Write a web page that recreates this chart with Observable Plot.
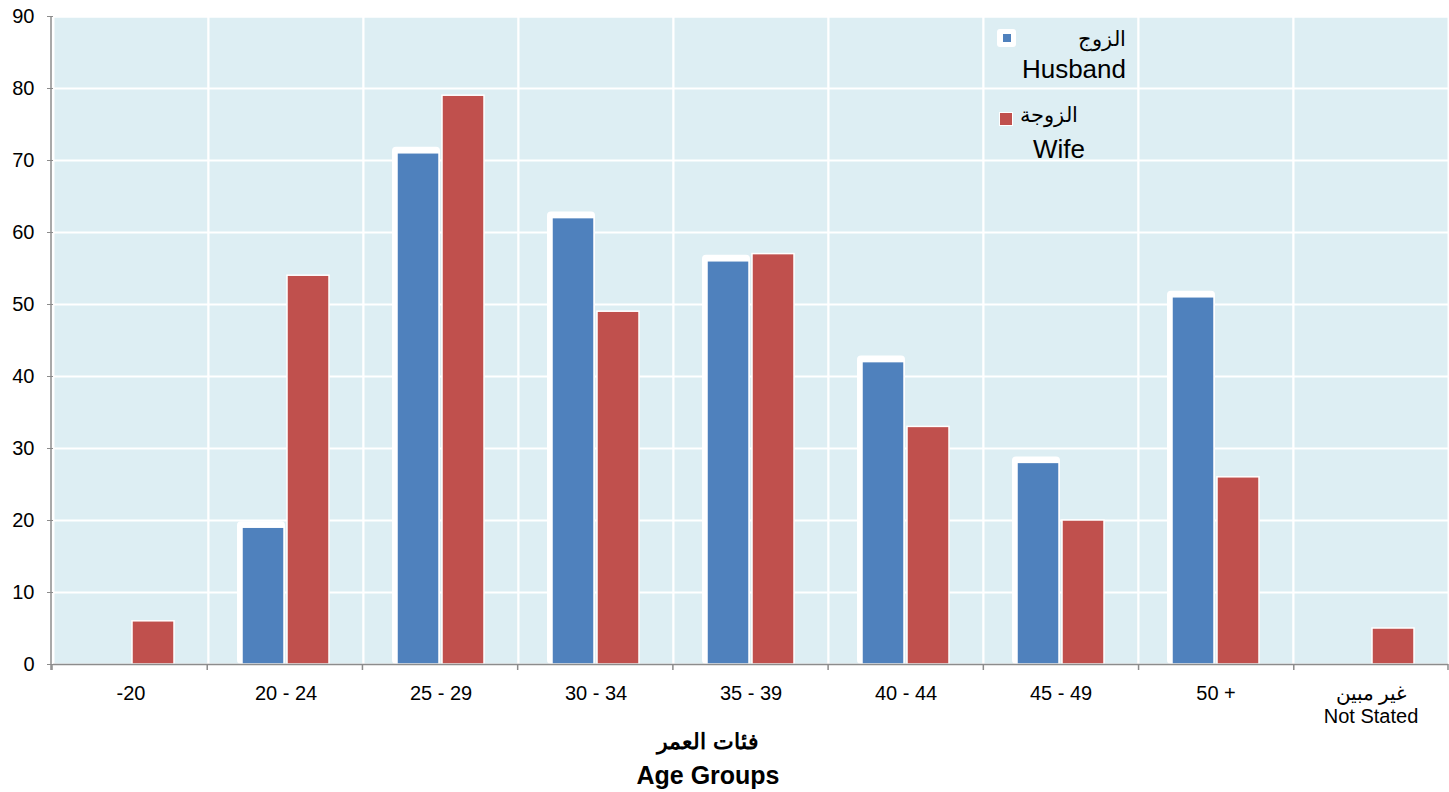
<!DOCTYPE html>
<html><head><meta charset="utf-8">
<script src="https://cdn.jsdelivr.net/npm/d3@7"></script>
<script src="https://cdn.jsdelivr.net/npm/@observablehq/plot@0.6"></script>
<style>
body{margin:0;background:#fff;font-family:"Liberation Sans",Arial,sans-serif;}
#wrap{position:relative;width:1449px;height:792px;overflow:hidden}
.abs{position:absolute;white-space:nowrap;color:#000;line-height:1}
</style></head><body><div id="wrap"></div>
<script>
const groups = ["-20", "20 - 24", "25 - 29", "30 - 34", "35 - 39", "40 - 44", "45 - 49", "50 +", "غير مبين\nNot Stated"];
const husband = [0, 19, 71, 62, 56, 42, 28, 51, 0];
const wife = [6, 54, 79, 49, 57, 33, 20, 26, 5];
const seriesNames = ["Husband", "Wife"];
const seriesColors = ["#4F81BD", "#C0504D"];
const yTicks = [0, 10, 20, 30, 40, 50, 60, 70, 80, 90];

const rows = groups.flatMap((g, i) => [
  {group: g, series: "Husband", value: husband[i]},
  {group: g, series: "Wife", value: wife[i]}
]).filter(d => d.value > 0);

const chart = Plot.plot({
  width: 1449, height: 728,
  marginTop: 16, marginRight: 0, marginBottom: 64, marginLeft: 52,
  style: {fontFamily: '"Liberation Sans", Arial, sans-serif', fontSize: "20px", color: "#000", background: "transparent", overflow: "visible"},
  fx: {domain: groups, paddingInner: 0, paddingOuter: 0, label: null},
  x: {domain: seriesNames, paddingInner: 0.07, paddingOuter: 0.73, axis: null},
  y: {domain: [0, 90], label: null},
  color: {domain: seriesNames, range: seriesColors},
  marks: [
    Plot.frame({fill: "#DDEEF3", stroke: "white", strokeWidth: 2}),
    Plot.ruleY(yTicks.filter(d => d > 0), {stroke: "white", strokeWidth: 2}),
    Plot.barY(rows.filter(d => d.series === "Husband"), {fx: "group", x: "series", y: "value", fill: "white", insetLeft: -5, insetRight: -1, insetTop: -6, rx: 4}),
    Plot.barY(rows, {fx: "group", x: "series", y: "value", fill: "series", stroke: "white", strokeWidth: 1.5}),
    Plot.ruleY([0], {stroke: "#8c8c8c", strokeWidth: 1.5}),
    Plot.axisY(yTicks, {anchor: "left", tickSize: 6, tickPadding: 13, stroke: "#8c8c8c", fill: "#000", label: null}),
    Plot.axisFx({anchor: "bottom", tickSize: 0, tickPadding: 19, label: null, lineHeight: 1.15, fill: "#000"})
  ]
});

const wrap = document.getElementById("wrap");
wrap.appendChild(chart);

// axis line and category boundary ticks derived from the plot's scales
const fxS = chart.scale("fx"), yS = chart.scale("y");
const n = fxS.domain.length;
const step = (fxS.range[1] - fxS.range[0]) / n;
const y0 = yS.range[0], yTop = yS.range[1];
const svg = d3.select(chart.tagName.toLowerCase() === "svg" ? chart : chart.querySelector("svg"));
const g = svg.append("g").attr("stroke", "#8c8c8c").attr("stroke-width", 1.5);
g.selectAll("line.b").data(d3.range(n + 1)).join("line")
  .attr("x1", i => Math.min(fxS.range[0] + i * step, fxS.range[1] - 1))
  .attr("x2", i => Math.min(fxS.range[0] + i * step, fxS.range[1] - 1))
  .attr("y1", y0).attr("y2", y0 + 6);
g.append("line").attr("x1", fxS.range[0] - 1).attr("x2", fxS.range[0] - 1).attr("y1", yTop).attr("y2", y0 + 6);

// legend
function add(html, css) {
  const d = document.createElement("div");
  d.className = "abs";
  d.innerHTML = html;
  Object.assign(d.style, css);
  wrap.appendChild(d);
  return d;
}
add("", {left: "997px", top: "29px", width: "19px", height: "18px", background: "#fff", borderRadius: "3px"});
add("", {left: "1003px", top: "34px", width: "8px", height: "8px", background: seriesColors[0]});
add("الزوج", {right: "323px", top: "28px", fontSize: "21px", direction: "rtl"});
add("Husband", {right: "323px", top: "56px", fontSize: "26px"});
add("", {left: "1000px", top: "113px", width: "12px", height: "12px", background: seriesColors[1], boxShadow: "0 0 0 1px #fff"});
add("الزوجة", {right: "371px", top: "104px", fontSize: "21px", direction: "rtl"});
add("Wife", {left: "1033px", top: "136px", fontSize: "26px"});

// axis title
add("فئات العمر", {left: "558px", width: "300px", textAlign: "center", top: "731px", fontSize: "22px", fontWeight: "bold", direction: "rtl"});
add("Age Groups", {left: "558px", width: "300px", textAlign: "center", top: "763px", fontSize: "25px", fontWeight: "bold"});
</script></body></html>
